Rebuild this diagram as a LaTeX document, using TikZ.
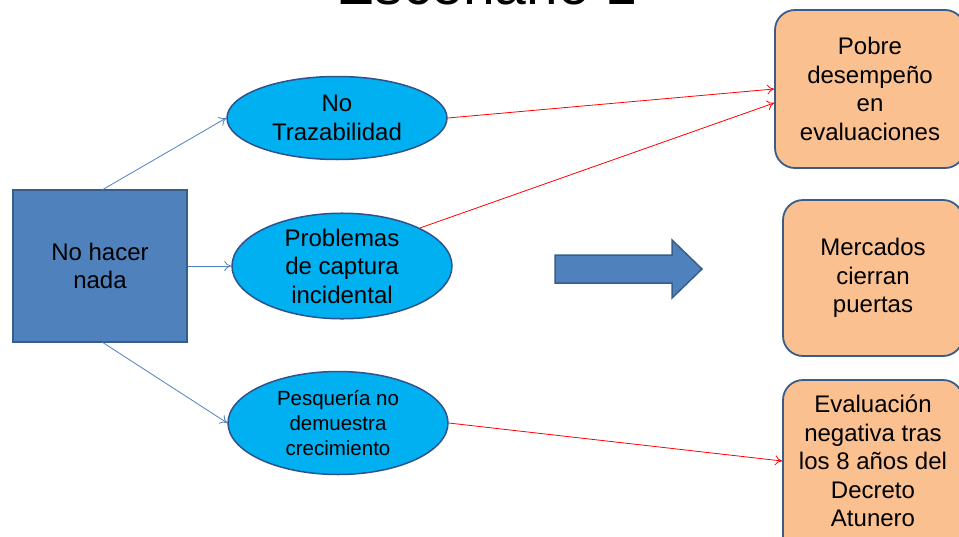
\documentclass[tikz,border=0pt]{standalone}
\usepackage{fontspec}
\setmainfont{Liberation Sans}
\usetikzlibrary{arrows.meta,shapes.geometric}
\definecolor{sqfill}{HTML}{4F81BD}
\definecolor{sqdraw}{HTML}{385D8A}
\definecolor{elfill}{HTML}{00B0F0}
\definecolor{elline}{HTML}{2F528F}
\definecolor{boxfill}{HTML}{FAC090}
\tikzset{
  x=1pt,y=-1pt,
  txt/.style={font=\fontsize{24}{28.5}\selectfont,align=center,text=black},
  sq/.style={draw=sqdraw,fill=sqfill,line width=1.5pt,minimum width=174pt,minimum height=152pt,inner sep=0pt},
  ell/.style={ellipse,draw=elline,fill=elfill,line width=1.5pt,inner sep=0pt},
  rbox/.style={draw=sqdraw,fill=boxfill,line width=1.8pt,rounded corners=20pt,inner sep=0pt},
  bline/.style={draw=sqfill,line width=0.8pt,-{To[length=7pt,width=10pt]}},
  rline/.style={draw=red,line width=0.8pt,-{To[length=7pt,width=10pt]}},
  bigarrow/.style={draw=sqdraw,fill=sqfill,line width=1.5pt,line join=miter},
}
\begin{document}
\begin{tikzpicture}
\useasboundingbox (0,0) rectangle (959,536);
\node[font=\fontsize{57}{60}\selectfont,anchor=base] (title) at (487,4) {Escenario 1};
\node[sq,txt] (nada) at (100,266) {No hacer\\nada};
\node[ell,txt,minimum width=220pt,minimum height=83pt] (e1) at (337,118) {No\\Trazabilidad};
\node[ell,txt,minimum width=220pt,minimum height=104pt] (e2) at (342,266) {Problemas\\de captura\\incidental};
\node[ell,txt,font=\fontsize{20.5}{25}\selectfont,minimum width=220pt,minimum height=103pt] (e3) at (338,423) {Pesquería no\\demuestra\\crecimiento};
\node[rbox,txt,minimum width=190pt,minimum height=158pt] (b1) at (870,89) {Pobre\\desempeño\\en\\evaluaciones};
\node[rbox,txt,minimum width=180pt,minimum height=156pt] (b2) at (873,278) {Mercados\\cierran\\puertas};
\node[rbox,minimum width=180pt,minimum height=190pt] (b3) at (873,475) {};
\node[txt] (b3t) at (873,461) {Evaluación\\negativa tras\\los 8 años del\\Decreto\\Atunero};
\draw[bigarrow] (555,255) -- (672,255) -- (672,240) -- (702,269) -- (672,298) -- (672,283) -- (555,283) -- cycle;
\coordinate (nt) at (102,190);
\coordinate (nb) at (102,342);
\draw[bline] (nt) -- (e1.west);
\draw[bline] (nada.east) -- (e2.west);
\draw[bline] (nb) -- (e3.west);
\draw[rline] (e1.east) -- (b1.west |- 0,89);
\draw[rline] (e2.26) -- (b1.west |- 0,103);
\draw[rline] (e3.east) -- (b3.west |- 0,461);
\end{tikzpicture}
\end{document}
